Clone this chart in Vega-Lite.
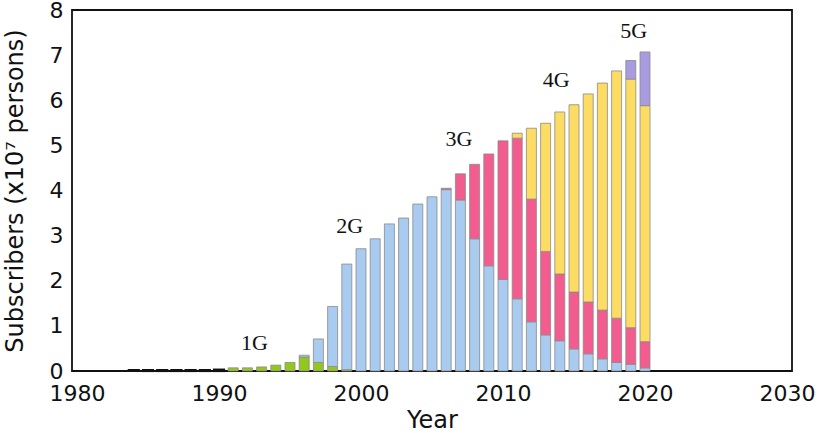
{
  "$schema": "https://vega.github.io/schema/vega-lite/v6.json",
  "width": 720,
  "height": 361,
  "autosize": {"type": "none"},
  "padding": {"left": 72, "top": 10, "right": 35, "bottom": 62},
  "background": "white",
  "config": {
    "view": {"stroke": "#111", "strokeWidth": 1.8},
    "axis": {"grid": false, "ticks": false, "domain": false, "labelFont": "DejaVu Sans", "titleFont": "DejaVu Sans", "labelColor": "#111", "titleColor": "#111", "titleFontWeight": "normal"}
  },
  "datasets": {
    "bars": [
      {"year": 1984, "gen": "1G", "g": 1, "value": 0.02},
      {"year": 1985, "gen": "1G", "g": 1, "value": 0.02},
      {"year": 1986, "gen": "1G", "g": 1, "value": 0.02},
      {"year": 1987, "gen": "1G", "g": 1, "value": 0.02},
      {"year": 1988, "gen": "1G", "g": 1, "value": 0.02},
      {"year": 1989, "gen": "1G", "g": 1, "value": 0.02},
      {"year": 1990, "gen": "1G", "g": 1, "value": 0.03},
      {"year": 1991, "gen": "1G", "g": 1, "value": 0.07},
      {"year": 1992, "gen": "1G", "g": 1, "value": 0.07},
      {"year": 1993, "gen": "1G", "g": 1, "value": 0.09},
      {"year": 1994, "gen": "1G", "g": 1, "value": 0.13},
      {"year": 1995, "gen": "1G", "g": 1, "value": 0.19},
      {"year": 1996, "gen": "1G", "g": 1, "value": 0.31},
      {"year": 1996, "gen": "2G", "g": 2, "value": 0.04},
      {"year": 1997, "gen": "1G", "g": 1, "value": 0.19},
      {"year": 1997, "gen": "2G", "g": 2, "value": 0.52},
      {"year": 1998, "gen": "1G", "g": 1, "value": 0.1},
      {"year": 1998, "gen": "2G", "g": 2, "value": 1.33},
      {"year": 1999, "gen": "1G", "g": 1, "value": 0.03},
      {"year": 1999, "gen": "2G", "g": 2, "value": 2.34},
      {"year": 2000, "gen": "2G", "g": 2, "value": 2.71},
      {"year": 2001, "gen": "2G", "g": 2, "value": 2.93},
      {"year": 2002, "gen": "2G", "g": 2, "value": 3.26},
      {"year": 2003, "gen": "2G", "g": 2, "value": 3.39},
      {"year": 2004, "gen": "2G", "g": 2, "value": 3.7},
      {"year": 2005, "gen": "2G", "g": 2, "value": 3.86},
      {"year": 2006, "gen": "2G", "g": 2, "value": 4.02},
      {"year": 2006, "gen": "3G", "g": 3, "value": 0.03},
      {"year": 2007, "gen": "2G", "g": 2, "value": 3.79},
      {"year": 2007, "gen": "3G", "g": 3, "value": 0.58},
      {"year": 2008, "gen": "2G", "g": 2, "value": 2.93},
      {"year": 2008, "gen": "3G", "g": 3, "value": 1.65},
      {"year": 2009, "gen": "2G", "g": 2, "value": 2.33},
      {"year": 2009, "gen": "3G", "g": 3, "value": 2.48},
      {"year": 2010, "gen": "2G", "g": 2, "value": 2.03},
      {"year": 2010, "gen": "3G", "g": 3, "value": 3.07},
      {"year": 2011, "gen": "2G", "g": 2, "value": 1.6},
      {"year": 2011, "gen": "3G", "g": 3, "value": 3.56},
      {"year": 2011, "gen": "4G", "g": 4, "value": 0.11},
      {"year": 2012, "gen": "2G", "g": 2, "value": 1.09},
      {"year": 2012, "gen": "3G", "g": 3, "value": 2.72},
      {"year": 2012, "gen": "4G", "g": 4, "value": 1.57},
      {"year": 2013, "gen": "2G", "g": 2, "value": 0.8},
      {"year": 2013, "gen": "3G", "g": 3, "value": 1.85},
      {"year": 2013, "gen": "4G", "g": 4, "value": 2.84},
      {"year": 2014, "gen": "2G", "g": 2, "value": 0.67},
      {"year": 2014, "gen": "3G", "g": 3, "value": 1.48},
      {"year": 2014, "gen": "4G", "g": 4, "value": 3.59},
      {"year": 2015, "gen": "2G", "g": 2, "value": 0.49},
      {"year": 2015, "gen": "3G", "g": 3, "value": 1.26},
      {"year": 2015, "gen": "4G", "g": 4, "value": 4.15},
      {"year": 2016, "gen": "2G", "g": 2, "value": 0.38},
      {"year": 2016, "gen": "3G", "g": 3, "value": 1.15},
      {"year": 2016, "gen": "4G", "g": 4, "value": 4.61},
      {"year": 2017, "gen": "2G", "g": 2, "value": 0.27},
      {"year": 2017, "gen": "3G", "g": 3, "value": 1.08},
      {"year": 2017, "gen": "4G", "g": 4, "value": 5.03},
      {"year": 2018, "gen": "2G", "g": 2, "value": 0.19},
      {"year": 2018, "gen": "3G", "g": 3, "value": 0.98},
      {"year": 2018, "gen": "4G", "g": 4, "value": 5.48},
      {"year": 2019, "gen": "2G", "g": 2, "value": 0.15},
      {"year": 2019, "gen": "3G", "g": 3, "value": 0.81},
      {"year": 2019, "gen": "4G", "g": 4, "value": 5.51},
      {"year": 2019, "gen": "5G", "g": 5, "value": 0.41},
      {"year": 2020, "gen": "2G", "g": 2, "value": 0.07},
      {"year": 2020, "gen": "3G", "g": 3, "value": 0.58},
      {"year": 2020, "gen": "4G", "g": 4, "value": 5.23},
      {"year": 2020, "gen": "5G", "g": 5, "value": 1.19}
    ],
    "labels": [
      {"year": 1992.5, "value": 0.62, "text": "1G"},
      {"year": 1999.2, "value": 3.21, "text": "2G"},
      {"year": 2006.9, "value": 5.14, "text": "3G"},
      {"year": 2013.75, "value": 6.45, "text": "4G"},
      {"year": 2019.2, "value": 7.54, "text": "5G"}
    ]
  },
  "layer": [
    {
      "data": {"name": "bars"},
      "mark": {"type": "bar", "width": 10},
      "encoding": {
        "x": {"field": "year", "type": "quantitative", "scale": {"domain": [1980, 2030], "nice": false, "zero": false},
              "axis": {"values": [1980, 1990, 2000, 2010, 2020, 2030], "format": "d", "title": "Year", "labelFontSize": 22, "titleFontSize": 24, "labelPadding": 12, "titlePadding": 4, "labelFlush": false}},
        "y": {"field": "value", "type": "quantitative", "stack": "zero", "scale": {"domain": [0, 8], "nice": false},
              "axis": {"values": [0, 1, 2, 3, 4, 5, 6, 7, 8], "title": "Subscribers (x10⁷ persons)", "labelFontSize": 22, "titleFontSize": 24, "labelPadding": 9, "titlePadding": 22, "labelFlush": false}},
        "color": {"field": "gen", "type": "nominal", "legend": null,
                  "scale": {"domain": ["1G", "2G", "3G", "4G", "5G"], "range": ["#92c81e", "#a8cbef", "#f25c8e", "#fddc64", "#a99be0"]}},
        "stroke": {"condition": {"test": "datum.year < 1991", "value": "#111111"}, "value": "#8a8a8a"},
        "strokeWidth": {"condition": {"test": "datum.year < 1991", "value": 2.2}, "value": 0.8},
        "order": {"field": "g", "type": "quantitative", "sort": "ascending"}
      }
    },
    {
      "data": {"name": "labels"},
      "mark": {"type": "text", "font": "Liberation Serif", "fontSize": 22, "color": "#111", "align": "center", "baseline": "middle"},
      "encoding": {
        "x": {"field": "year", "type": "quantitative"},
        "y": {"field": "value", "type": "quantitative"},
        "text": {"field": "text"}
      }
    }
  ]
}
